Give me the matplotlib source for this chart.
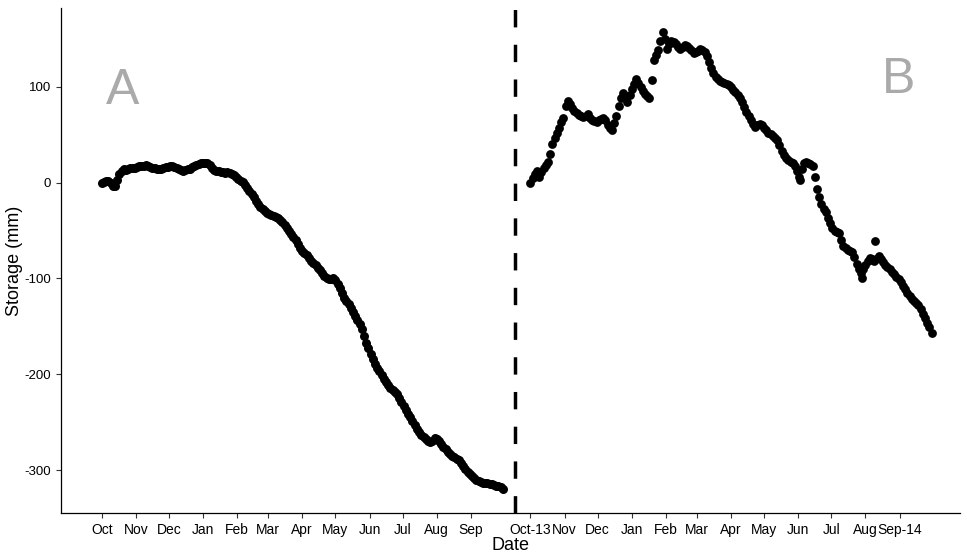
import matplotlib.pyplot as plt
import numpy as np

plt.rcParams['font.family'] = ['Liberation Sans', 'DejaVu Sans']
plt.rcParams['axes.unicode_minus'] = False

# day offsets (period A starts at day 0, period B at day 389), one reading every 2 days
step = 2
start_a = 0
start_b = 389
storage_a = [0, 1, 2, 2, 0, -4, -3, 3, 9, 12, 14, 13, 14, 15, 15, 15, 16, 17, 17, 17,
             18, 17, 16, 15, 15, 14, 14, 14, 15, 16, 16, 17, 17, 16, 15, 14, 13, 12, 13, 14,
             14, 16, 17, 18, 19, 20, 20, 21, 21, 18, 15, 13, 12, 12, 11, 11, 10, 11, 10, 9,
             8, 6, 4, 2, 1, -2, -6, -9, -12, -15, -19, -22, -25, -28, -30, -32, -33, -34, -35, -36,
             -37, -39, -41, -44, -47, -50, -54, -57, -60, -64, -68, -71, -73, -76, -79, -82, -84, -86, -89, -91,
             -94, -97, -100, -101, -101, -99, -102, -106, -110, -115, -120, -124, -127, -131, -135, -139, -143, -148, -153, -160,
             -167, -173, -179, -184, -189, -193, -197, -201, -205, -208, -211, -214, -216, -218, -221, -225, -229, -233, -237, -241,
             -245, -249, -253, -257, -260, -263, -266, -268, -270, -271, -270, -267, -268, -270, -273, -276, -278, -281, -283, -285,
             -286, -288, -290, -293, -296, -299, -302, -304, -306, -308, -310, -311, -312, -313, -313, -314, -315, -315, -316, -317,
             -317, -318, -320]
storage_b = [0, 5, 9, 12, 6, 11, 15, 18, 22, 30, 40, 47, 52, 57, 63, 68, 80, 85, 82, 78,
             75, 73, 71, 70, 69, 70, 72, 68, 65, 64, 63, 65, 66, 67, 65, 60, 57, 55, 62, 70,
             80, 88, 94, 90, 84, 92, 98, 103, 108, 104, 100, 96, 93, 90, 88, 107, 128, 133, 138, 148,
             157, 150, 140, 145, 148, 147, 145, 142, 140, 142, 144, 143, 141, 138, 135, 136, 137, 140, 138, 136,
             132, 126, 120, 114, 110, 108, 106, 105, 104, 103, 102, 100, 97, 95, 92, 88, 84, 79, 74, 70,
             65, 61, 58, 60, 61, 60, 57, 55, 52, 51, 49, 47, 45, 39, 33, 29, 26, 24, 22, 20,
             17, 12, 6, 14, 20, 22, 21, 19, 17, 6, -7, -15, -22, -27, -31, -37, -42, -47, -50, -52,
             -53, -60, -66, -68, -70, -71, -72, -78, -85, -90, -94, -90, -86, -82, -79, -80, -82, -80, -77, -80,
             -83, -86, -88, -90, -93, -95, -98, -101, -104, -108, -111, -115, -118, -121, -124, -126, -128, -132, -137, -141,
             -146, -151, -157]
# a few isolated readings in period B
extra_days = [634, 690, 702]
extra_storage = [3, -100, -61]

month_ticks = [0, 31, 61, 92, 123, 151, 182, 212, 243, 273, 304, 335]
labels_a = ["Oct", "Nov", "Dec", "Jan", "Feb", "Mar", "Apr", "May", "Jun", "Jul", "Aug", "Sep"]
labels_b = ["Oct-13", "Nov", "Dec", "Jan", "Feb", "Mar", "Apr", "May", "Jun", "Jul", "Aug", "Sep-14"]
split_day = 375

days_a = start_a + step * np.arange(len(storage_a))
days_b = start_b + step * np.arange(len(storage_b))

fig = plt.figure(figsize=(9.67, 5.53), dpi=100)
ax = fig.add_axes([0.063, 0.072, 0.930, 0.913])

ax.scatter(days_a, storage_a, s=42, color="black", linewidths=0)
ax.scatter(days_b, storage_b, s=40, color="black", linewidths=0)
ax.scatter(extra_days, extra_storage, s=40, color="black", linewidths=0)
ax.axvline(split_day, color="black", lw=2.5, dashes=(5, 5))

ax.text(19, 96, "A", fontsize=36, color="#aaaaaa", ha="center", va="center")
ax.text(723, 107, "B", fontsize=36, color="#aaaaaa", ha="center", va="center")

ticks = month_ticks + [start_b + m for m in month_ticks]
ax.set_xticks(ticks)
ax.set_xticklabels(labels_a + labels_b)
ax.set_yticks([100, 0, -100, -200, -300])
ax.set_xlim(-37, 779)
ax.set_ylim(-345, 182)
ax.tick_params(axis="x", labelsize=10, length=3.5, width=0.8, color="#333333")
ax.tick_params(axis="y", labelsize=9.5, length=3.5, width=0.8, color="#333333")
ax.set_xlabel("Date", fontsize=13, labelpad=0)
ax.set_ylabel("Storage (mm)", fontsize=13)
ax.yaxis.set_label_coords(-0.042, 0.5)
for side in ["top", "right"]:
    ax.spines[side].set_visible(False)
for side in ["left", "bottom"]:
    ax.spines[side].set_linewidth(0.9)

fig.savefig("out.png", dpi=100)
